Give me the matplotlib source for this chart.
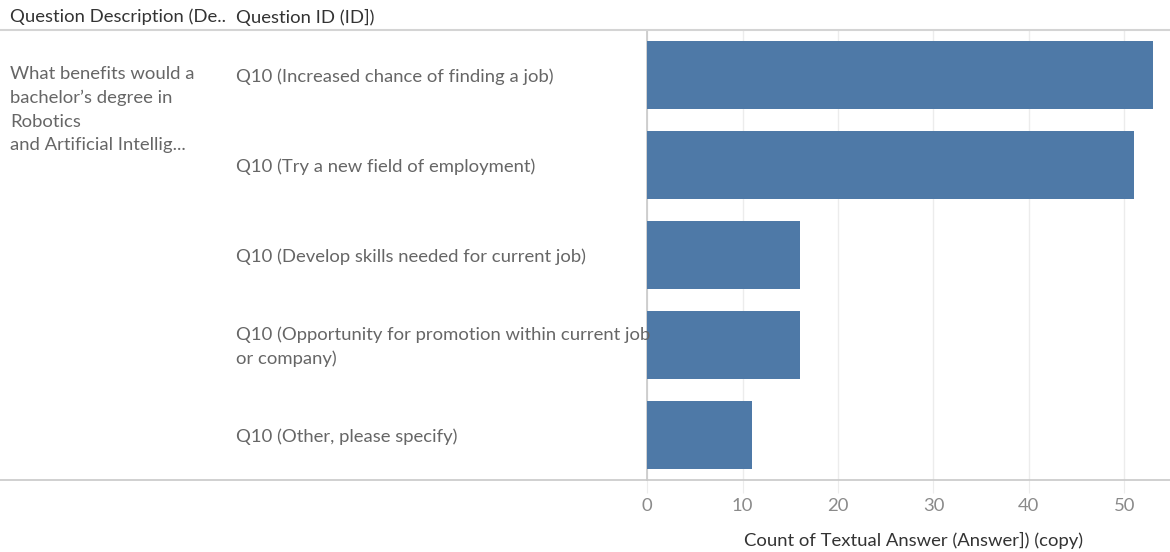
import matplotlib.pyplot as plt
import matplotlib.transforms as mtransforms
from matplotlib.lines import Line2D

# --- data ---
categories = [
    "Q10 (Increased chance of finding a job)",
    "Q10 (Try a new field of employment)",
    "Q10 (Develop skills needed for current job)",
    "Q10 (Opportunity for promotion within current job\nor company)",
    "Q10 (Other, please specify)",
]
counts = [53, 51, 16, 16, 11]
x_ticks = [0, 10, 20, 30, 40, 50]
description = "What benefits would a\nbachelor\u2019s degree in\nRobotics\nand Artificial Intellig..."
header_desc = "Question Description (De.."
header_id = "Question ID (ID])"
x_title = "Count of Textual Answer (Answer]) (copy)"

plt.rcParams['font.family'] = ['Lato', 'DejaVu Sans']
fs = 13.3

W, H = 1170, 552
fig = plt.figure(figsize=(W / 100, H / 100), dpi=100)

# pane geometry (pixels)
left_px, top_px, bottom_px = 647.3, 30, 480
ax = fig.add_axes([left_px / W, 1 - bottom_px / H, 1 - left_px / W, (bottom_px - top_px) / H])

bar_color = "#4e79a7"
n = len(categories)
ypos = list(range(n))
ax.barh(ypos, counts, height=0.75, color=bar_color, zorder=3)
ax.set_ylim(n - 0.5, -0.5)
ax.set_xlim(0, 54.8)

for s in ["top", "right", "bottom"]:
    ax.spines[s].set_visible(False)
ax.spines["left"].set_color("#c8c8c8")
ax.spines["left"].set_linewidth(1.2)

ax.set_yticks([])
ax.set_xticks(x_ticks)
ax.grid(axis="x", color="#ececec", linewidth=1, zorder=0)
ax.tick_params(axis="x", length=9, color="#ececec", labelcolor="#8a8a8a",
               labelsize=fs, pad=4)
ax.set_xlabel(x_title, fontsize=fs, color="#333333")
ax.xaxis.set_label_coords(0.51, -0.115)

# row labels
trans = mtransforms.blended_transform_factory(fig.transFigure, ax.transData)
for i, lab in enumerate(categories):
    ax.text(236 / W, i + 0.02, lab, transform=trans, ha="left", va="center",
            fontsize=fs, color="#666666", linespacing=1.58, clip_on=False)

# description text
fig.text(10 / W, 1 - 66 / H, description, ha="left", va="top",
         fontsize=fs, color="#666666", linespacing=1.58)

# headers
fig.text(10 / W, 1 - 17 / H, header_desc, ha="left", va="center",
         fontsize=fs, color="#333333")
fig.text(236 / W, 1 - 17 / H, header_id, ha="left", va="center",
         fontsize=fs, color="#333333")

# header and bottom rules
fig.add_artist(Line2D([0, 1], [1 - top_px / H] * 2, color="#d4d4d4", linewidth=1.5,
                      transform=fig.transFigure))
fig.add_artist(Line2D([0, 1], [1 - bottom_px / H] * 2, color="#c8c8c8", linewidth=1.2,
                      transform=fig.transFigure))

fig.savefig("out.png", dpi=100)
